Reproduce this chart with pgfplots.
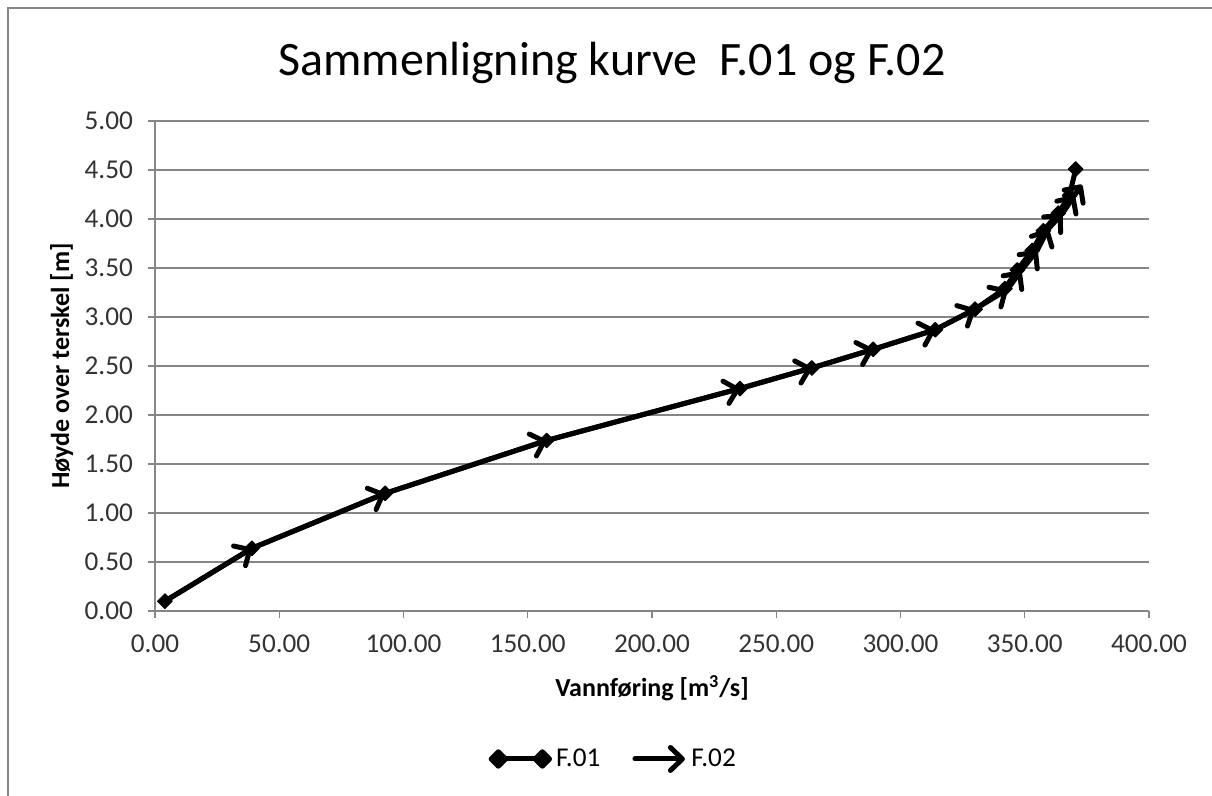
\documentclass[border=0pt]{standalone}
\usepackage{pgfplots}
\pgfplotsset{compat=1.18}
\usepackage{fontspec}
\setmainfont{Carlito}
\usetikzlibrary{arrows.meta}
\definecolor{gridgray}{RGB}{134,134,134}

\begin{document}
\begin{tikzpicture}
\path[use as bounding box] (0pt,0pt) rectangle (606pt,-398pt);
\draw[gridgray,line width=1.2pt] (4pt,-398pt) -- (4pt,-4pt) -- (606pt,-4pt);
\node[font=\fontsize{24}{28}\selectfont] at (306pt,-31.5pt) {Sammenligning kurve\ \ F.01 og F.02};
\begin{axis}[
  at={(77.5pt,-305.5pt)}, anchor=south west,
  scale only axis, width=497pt, height=245pt,
  xmin=0, xmax=400, ymin=0, ymax=5,
  xtick distance=50, ytick distance=0.5,
  axis lines=left, axis line style={gridgray,-,line width=0.6pt},
  tick style={gridgray,line width=0.6pt}, tick align=outside, major tick length=3.5pt,
  ymajorgrids, grid style={gridgray,line width=0.6pt},
  /pgf/number format/.cd, fixed, fixed zerofill, precision=2, assume math mode=true,
  /pgfplots/.cd,
  ticklabel style={font=\fontsize{13.6}{16}\selectfont, text=black!80},
  yticklabel style={xshift=-4pt},
  xticklabel style={yshift=-5pt},
  scaled ticks=false,
  xlabel={Vannføring [m\textsuperscript{3}/s]},
  ylabel={Høyde over terskel [m]},
  label style={font=\bfseries\fontsize{13}{15}\selectfont},
  xlabel style={at={(axis description cs:0.5,-0.157)}, anchor=center},
  ylabel style={at={(axis description cs:-0.094,0.5)}, anchor=center},
  legend style={at={(0.462,-0.302)}, anchor=center, legend columns=2, draw=none,
    font=\fontsize{13.6}{16}\selectfont,
    /tikz/every even column/.append style={column sep=14pt}},
]
\addplot[black, line width=2.5pt, line join=round, mark=square*, mark size=2.6pt,
  mark options={rotate=45, line width=0.5pt},
  legend image code/.code={
    \draw[black,line width=2.5pt] (0pt,0pt) -- (22pt,0pt);
    \fill[black] (-3.6pt,0pt) -- (0pt,3.6pt) -- (3.6pt,0pt) -- (0pt,-3.6pt) -- cycle;
    \fill[black] (18.4pt,0pt) -- (22pt,3.6pt) -- (25.6pt,0pt) -- (22pt,-3.6pt) -- cycle;}]
coordinates {
(4,0.10) (39,0.64) (92.6,1.20) (157.6,1.74) (235.4,2.27) (264.3,2.48)
(289,2.67) (314,2.87) (330,3.08) (342,3.29) (347,3.48) (353,3.68)
(357.5,3.88) (363.5,4.06) (368,4.24) (370.5,4.51)
};
\addlegendentry{F.01}
\addplot[black, line width=2.5pt, line cap=round,
  -{Straight Barb[length=6pt,width=11.5pt,round]},
  quiver={u=\thisrow{xn}-\thisrow{x}, v=\thisrow{yn}-\thisrow{y}},
  legend image code/.code={
    \draw[black,line width=2.5pt,-{Straight Barb[length=6pt,width=11.5pt,round]}] (0pt,0pt) -- (25pt,0pt);}]
table[x=x, y=y] {
x     y     xn    yn
4     0.10  39    0.64
39    0.64  92.6  1.20
92.6  1.20  157.6 1.74
157.6 1.74  235.4 2.27
235.4 2.27  264.3 2.48
264.3 2.48  289   2.67
289   2.67  314   2.87
314   2.87  330   3.08
330   3.08  343   3.28
343   3.28  348.5 3.47
348.5 3.47  355   3.68
355   3.68  359.5 3.90
359.5 3.90  365   4.05
365   4.05  370   4.24
370   4.24  373   4.35
};
\addlegendentry{F.02}
\end{axis}
\end{tikzpicture}
\end{document}
